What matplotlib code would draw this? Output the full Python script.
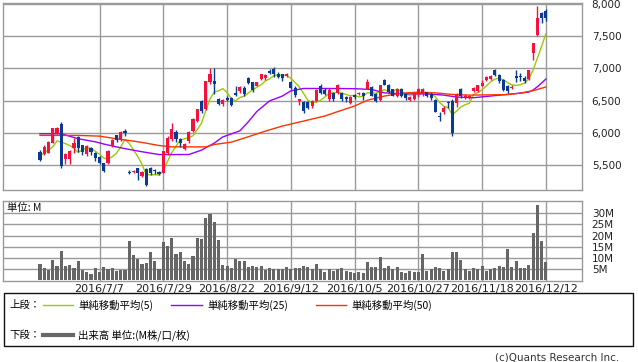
import matplotlib
matplotlib.use("Agg")
import matplotlib.pyplot as plt
import numpy as np
import pandas as pd
from matplotlib.patches import Rectangle
from matplotlib.lines import Line2D

plt.rcParams['font.family'] = ['DejaVu Sans']

# ---------------- data ----------------
opens = [5700, 5663, 5690, 5845, 5992, 6136, 5586, 5586, 5767, 5938,
         5803, 5663, 5767, 5679, 5627, 5534, 5534, 5793, 5958, 5886,
         6026, 5395, 5390, 5453, 5333, 5440, 5448, 5410, 5390, 5375,
         5688, 5896, 6010, 5906, 5750, 5870, 6026, 6182, 6495, 6365,
         6782, 6807, 6531, 6443, 6540, 6546, 6625, 6650, 6703, 6844,
         6781, 6729, 6833, 6844, 6963, 6990, 6911, 6911, 6875, 6792,
         6703, 6495, 6479, 6479, 6417, 6495, 6729, 6667, 6521, 6625,
         6625, 6625, 6563, 6458, 6589, 6600, 6620, 6683, 6709, 6605,
         6516, 6814, 6746, 6673, 6579, 6673, 6605, 6516, 6526, 6620,
         6610, 6631, 6605, 6516, 6260, 6316, 6475, 6500, 6460, 6680,
         6555, 6550, 6644, 6644, 6732, 6814, 6835, 6980, 6902, 6825,
         6722, 6696, 6887, 6880, 6850, 6835, 7237, 7520, 7866, 7897]
highs = [5731, 5803, 5870, 6080, 6085, 6167, 5690, 5730, 5922, 5948,
         5815, 5810, 5780, 5700, 5640, 5534, 5730, 5896, 5960, 6026,
         6062, 5420, 5420, 5460, 5400, 5450, 5470, 5440, 5400, 5714,
         5948, 6156, 6042, 5920, 5840, 6026, 6234, 6375, 6510, 6807,
         7000, 7000, 6547, 6520, 6570, 6560, 6729, 6729, 6729, 6860,
         6792, 6781, 6911, 6911, 6990, 7016, 6937, 6911, 6927, 6807,
         6729, 6531, 6495, 6495, 6510, 6677, 6755, 6688, 6688, 6635,
         6755, 6635, 6573, 6573, 6605, 6640, 6640, 6840, 6725, 6620,
         6746, 6830, 6762, 6683, 6700, 6694, 6620, 6568, 6631, 6694,
         6694, 6641, 6620, 6526, 6316, 6410, 6500, 6526, 6620, 6696,
         6600, 6590, 6710, 6747, 6820, 6876, 6902, 6990, 6918, 6835,
         6747, 6737, 6969, 6930, 6876, 6980, 7392, 7969, 7880, 7918]
lows = [5560, 5648, 5680, 5840, 5980, 5453, 5508, 5520, 5690, 5700,
        5650, 5640, 5660, 5560, 5510, 5390, 5520, 5780, 5850, 5870,
        5950, 5360, 5370, 5267, 5320, 5170, 5350, 5360, 5350, 5375,
        5662, 5870, 5854, 5781, 5730, 5844, 6010, 6170, 6313, 6355,
        6755, 6600, 6430, 6417, 6490, 6417, 6573, 6625, 6573, 6755,
        6630, 6719, 6817, 6823, 6911, 6870, 6850, 6807, 6859, 6677,
        6563, 6427, 6302, 6365, 6391, 6479, 6599, 6583, 6495, 6495,
        6609, 6495, 6479, 6448, 6526, 6580, 6516, 6673, 6568, 6485,
        6500, 6736, 6620, 6568, 6560, 6552, 6516, 6500, 6516, 6552,
        6568, 6552, 6516, 6317, 6186, 6290, 6390, 5950, 6400, 6540,
        6520, 6520, 6628, 6628, 6720, 6800, 6825, 6887, 6773, 6644,
        6618, 6680, 6783, 6800, 6773, 6825, 7124, 7500, 7700, 7742]
closes = [5575, 5782, 5855, 6074, 6078, 5484, 5664, 5715, 5845, 5767,
          5700, 5793, 5700, 5612, 5524, 5405, 5715, 5886, 5886, 6010,
          6000, 5380, 5400, 5375, 5396, 5193, 5375, 5400, 5365, 5714,
          5922, 6063, 5896, 5840, 5818, 6010, 6208, 6365, 6339, 6807,
          6911, 6755, 6443, 6510, 6510, 6427, 6583, 6713, 6599, 6770,
          6667, 6781, 6911, 6896, 6927, 6911, 6870, 6844, 6911, 6703,
          6583, 6520, 6339, 6391, 6495, 6667, 6625, 6599, 6667, 6521,
          6740, 6531, 6521, 6563, 6552, 6620, 6578, 6788, 6578, 6500,
          6736, 6746, 6641, 6579, 6683, 6568, 6537, 6552, 6620, 6683,
          6673, 6568, 6537, 6327, 6245, 6380, 6465, 6000, 6590, 6567,
          6565, 6565, 6696, 6737, 6773, 6866, 6887, 6902, 6799, 6670,
          6644, 6710, 6851, 6860, 6800, 6969, 7392, 7778, 7778, 7778]
volumes = [7.4, 5.5, 4.7, 9.1, 6.5, 13.3, 6.5, 7.0, 5.5, 8.8,
           4.7, 3.8, 2.9, 5.5, 3.8, 6.0, 5.0, 5.5, 4.4, 4.7,
           4.7, 17.4, 11.5, 9.7, 7.4, 8.0, 12.7, 8.8, 5.2, 17.0,
           15.6, 19.0, 11.9, 12.7, 8.8, 7.4, 11.0, 19.0, 18.6, 27.8,
           29.7, 26.0, 17.9, 7.0, 6.5, 5.6, 9.7, 8.8, 8.8, 6.0,
           6.5, 6.0, 6.5, 4.7, 5.5, 5.0, 5.0, 5.0, 6.0, 5.0,
           5.6, 5.6, 6.5, 6.0, 5.0, 7.4, 5.0, 3.9, 5.0, 4.4,
           5.0, 5.6, 4.4, 3.9, 3.5, 3.9, 3.5, 8.3, 6.0, 6.0,
           10.6, 5.6, 6.5, 5.0, 6.0, 3.9, 3.5, 4.4, 3.9, 3.9,
           12.0, 4.4, 5.0, 6.0, 5.6, 4.4, 5.2, 12.9, 12.6, 9.2,
           5.0, 4.4, 5.6, 5.2, 6.5, 4.4, 5.0, 5.6, 6.5, 6.0,
           14.2, 6.0, 8.8, 5.6, 5.6, 7.0, 21.0, 33.5, 17.4, 8.3]

ma5_head = [5640, 5685, 5735, 5780]
ma25_idx = [0, 5, 9, 13, 15, 19, 21, 24, 28, 35, 38, 41, 43, 47, 49, 51, 54,
            57, 59, 62, 68, 74, 78, 81, 85, 89, 92, 95, 98, 102, 107, 112,
            115, 116, 117, 118, 119]
ma25_val = [5985, 5985, 5907, 5860, 5825, 5767, 5741, 5705, 5662, 5662, 5730,
            5840, 5935, 6030, 6170, 6330, 6495, 6570, 6651, 6688, 6688, 6685,
            6673, 6620, 6605, 6605, 6600, 6585, 6555, 6545, 6577, 6610, 6632,
            6665, 6715, 6773, 6835]
ma50_idx = [0, 9, 14, 19, 22, 24, 28, 31, 39, 41, 45, 49, 53, 57, 62, 67, 70,
            74, 77, 81, 85, 89, 93, 97, 101, 110, 113, 116, 119]
ma50_val = [5959, 5959, 5948, 5896, 5870, 5850, 5802, 5781, 5781, 5818, 5854,
            5938, 6026, 6104, 6182, 6260, 6328, 6416, 6505, 6570, 6615, 6630,
            6620, 6595, 6585, 6593, 6615, 6655, 6711]

date_tick_idx = [14, 29, 44, 59, 74, 89, 104, 119]
date_labels = ["2016/7/7", "2016/7/29", "2016/8/22", "2016/9/12",
               "2016/10/5", "2016/10/27", "2016/11/18", "2016/12/12"]
price_ticks = [5500, 6000, 6500, 7000, 7500, 8000]
vol_ticks = [5, 10, 15, 20, 25, 30]

# ---------------- style ----------------
UP = '#f5113d'
DOWN = '#0a3a94'
C_MA5 = '#99cc00'
C_MA25 = '#9900ff'
C_MA50 = '#ff3300'
GRID = '#9a9a9a'
VOL = '#666666'
JP = ['Noto Sans CJK JP', 'DejaVu Sans']

W, H = 638, 362
fig = plt.figure(figsize=(W / 100, H / 100), dpi=100)


def rect(x0, y0, x1, y1):
    return [x0 / W, 1 - y1 / H, (x1 - x0) / W, (y1 - y0) / H]


def fx(x):
    return x / W


def fy(y):
    return 1 - y / H


ax = fig.add_axes(rect(3, 3, 582, 190))
axv = fig.add_axes(rect(3, 201, 582, 281))

o = np.array(opens, float)
h = np.array(highs, float)
l = np.array(lows, float)
c = np.array(closes, float)
n = len(c)
x = np.arange(n)
cols = [UP if cc >= oo else DOWN for oo, cc in zip(o, c)]

# moving averages
ma5 = pd.Series(c).rolling(5).mean().to_numpy()
ma5[:4] = ma5_head
ax.plot(x, ma5, color=C_MA5, lw=1.0, zorder=2)
ax.plot(ma25_idx, ma25_val, color=C_MA25, lw=1.0, zorder=2)
ax.plot(ma50_idx, ma50_val, color=C_MA50, lw=1.0, zorder=2)

# candles
ax.vlines(x, l, h, colors=cols, lw=1.0, zorder=3)
body_h = np.maximum(np.abs(c - o), 16)
ax.bar(x, body_h, bottom=np.minimum(o, c), width=0.72, color=cols,
       linewidth=0, zorder=4)

ax.set_xlim(-8.7, 127.5)
ax.set_ylim(5111, 8016)
ax.set_yticks(price_ticks)
ax.set_yticklabels([f"{v:,}" for v in price_ticks])
ax.yaxis.tick_right()
ax.tick_params(axis='y', length=0, pad=7, labelsize=7.5, labelcolor='#222222')
ax.set_xticks(date_tick_idx)
ax.tick_params(axis='x', length=0, labelbottom=False)
ax.grid(True, color=GRID, lw=1.0, zorder=0)
ax.set_axisbelow(True)
for s in ax.spines.values():
    s.set_color(GRID)
    s.set_linewidth(1.0)

# volume
axv.bar(x, volumes, width=0.72, color=VOL, linewidth=0, zorder=3)
axv.set_xlim(-8.7, 127.5)
axv.set_ylim(-0.27, 35.5)
axv.set_yticks(vol_ticks)
axv.set_yticklabels([f"{v}M" for v in vol_ticks])
axv.yaxis.tick_right()
axv.tick_params(axis='y', length=0, pad=7, labelsize=7.5, labelcolor='#222222')
axv.set_xticks(date_tick_idx)
axv.set_xticklabels(date_labels)
axv.tick_params(axis='x', length=0, pad=2, labelsize=8, labelcolor='#222222')
axv.grid(True, color=GRID, lw=1.0, zorder=0)
axv.set_axisbelow(True)
for s in axv.spines.values():
    s.set_color(GRID)
    s.set_linewidth(1.0)
axv.text(fx(7), fy(208), "単位: M", transform=fig.transFigure, fontsize=7.5,
         family=JP, va='center', ha='left', color='#111111')

# legend box
fig.patches.append(Rectangle((fx(3.5), fy(346)), (633 - 3.5) / W, (346 - 293) / H,
                             transform=fig.transFigure, fill=False,
                             edgecolor='#111111', lw=1.0))
ty1, ty2 = 305, 335
fig.text(fx(9), fy(ty1), "上段：", family=JP, fontsize=7.5, va='center')
fig.text(fx(9), fy(ty2), "下段：", family=JP, fontsize=7.5, va='center')
for (x0, x1, col, lab) in [(43, 73, C_MA5, "単純移動平均(5)"),
                           (171, 202, C_MA25, "単純移動平均(25)"),
                           (316, 346, C_MA50, "単純移動平均(50)")]:
    fig.lines.append(Line2D([fx(x0), fx(x1)], [fy(ty1), fy(ty1)],
                            transform=fig.transFigure, color=col, lw=1.0))
    fig.text(fx(x1 + 5), fy(ty1), lab, family=JP, fontsize=7.5, va='center')
fig.lines.append(Line2D([fx(43), fx(73)], [fy(ty2), fy(ty2)],
                        transform=fig.transFigure, color=VOL, lw=3.0))
fig.text(fx(78), fy(ty2), "出来高 単位:(M株/口/枚)", family=JP, fontsize=7.5,
         va='center')

fig.text(fx(619), fy(357), "(c)Quants Research Inc.", fontsize=7.5,
         ha='right', va='center', color='#333333')

fig.savefig("out.png", dpi=100)
